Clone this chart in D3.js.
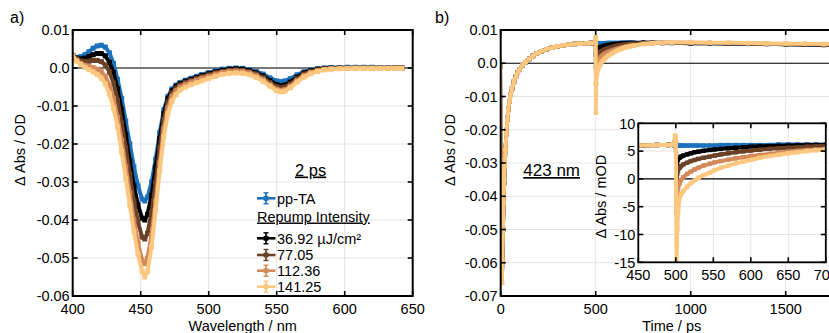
<!DOCTYPE html>
<html><head><meta charset="utf-8">
<script src="https://cdn.jsdelivr.net/npm/d3@7"></script>
<style>body{margin:0;background:#fff;overflow:hidden} text{font-family:"Liberation Sans",Arial,Helvetica,sans-serif;fill:#000}</style>
</head><body><svg id="c" width="829" height="333"></svg>
<script>
// ---------- DATA ----------
const seriesNames = ["pp-TA", "36.92 µJ/cm²", "77.05", "112.36", "141.25"];
const seriesColors = ["#1c71bd", "#000000", "#6b4126", "#d4895a", "#fcc77e"];

// (a) spectra at 2 ps, ΔAbs in OD
const wavelengths = [400,403,406,409,412,415,418,421,424,427,430,433,436,439,442,445,448,451,453,455,458,461,464,467,470,473,476,479,483,487,491,495,500,505,510,515,520,525,530,535,540,545,550,553,556,560,565,570,575,580,585,590,596,602,608,614,620,626,632,637,642];
const specPPTA = [0.0033,0.0028,0.0030,0.0035,0.0043,0.0052,0.0058,0.0060,0.0055,0.0040,0.0012,-0.0030,-0.0080,-0.0140,-0.0200,-0.0260,-0.0310,-0.0345,-0.0350,-0.0340,-0.0300,-0.0240,-0.0170,-0.0110,-0.0075,-0.0055,-0.0045,-0.0038,-0.0032,-0.0027,-0.0022,-0.0017,-0.0012,-0.0007,-0.0003,-0.0001,0.0000,-0.0001,-0.0004,-0.0009,-0.0016,-0.0026,-0.0034,-0.0036,-0.0034,-0.0028,-0.0018,-0.0010,-0.0005,-0.0002,0.0000,0.0001,0.0001,0.0002,0.0002,0.0002,0.0002,0.0001,0.0001,0.0001,0.0001];
const specRep37 = [0.0033,0.0026,0.0024,0.0026,0.0030,0.0035,0.0038,0.0038,0.0032,0.0015,-0.0012,-0.0055,-0.0110,-0.0175,-0.0245,-0.0310,-0.0360,-0.0395,-0.0400,-0.0385,-0.0335,-0.0260,-0.0185,-0.0120,-0.0080,-0.0060,-0.0048,-0.0041,-0.0035,-0.0030,-0.0025,-0.0020,-0.0015,-0.0010,-0.0006,-0.0003,-0.0002,-0.0003,-0.0007,-0.0013,-0.0021,-0.0033,-0.0044,-0.0047,-0.0045,-0.0037,-0.0024,-0.0013,-0.0007,-0.0003,-0.0001,0.0000,0.0000,0.0000,0.0000,0.0000,0.0000,0.0000,0.0000,0.0000,0.0000];
const specRep77 = [0.0033,0.0024,0.0019,0.0017,0.0018,0.0020,0.0020,0.0017,0.0008,-0.0010,-0.0040,-0.0085,-0.0145,-0.0210,-0.0280,-0.0350,-0.0405,-0.0445,-0.0450,-0.0435,-0.0380,-0.0300,-0.0210,-0.0135,-0.0090,-0.0066,-0.0053,-0.0045,-0.0038,-0.0033,-0.0028,-0.0023,-0.0018,-0.0013,-0.0009,-0.0006,-0.0005,-0.0006,-0.0010,-0.0016,-0.0025,-0.0038,-0.0049,-0.0052,-0.0050,-0.0042,-0.0028,-0.0016,-0.0009,-0.0005,-0.0002,-0.0001,0.0000,0.0000,0.0000,0.0000,0.0000,0.0000,0.0000,0.0000,0.0000];
const specRep112 = [0.0032,0.0020,0.0012,0.0007,0.0004,0.0001,-0.0003,-0.0010,-0.0022,-0.0045,-0.0080,-0.0130,-0.0190,-0.0260,-0.0330,-0.0400,-0.0460,-0.0505,-0.0515,-0.0500,-0.0440,-0.0350,-0.0250,-0.0160,-0.0105,-0.0075,-0.0060,-0.0050,-0.0043,-0.0037,-0.0032,-0.0027,-0.0022,-0.0016,-0.0012,-0.0009,-0.0008,-0.0009,-0.0013,-0.0020,-0.0030,-0.0044,-0.0056,-0.0059,-0.0057,-0.0048,-0.0033,-0.0020,-0.0012,-0.0007,-0.0004,-0.0002,-0.0001,-0.0001,0.0000,0.0000,0.0000,0.0000,0.0000,0.0000,0.0000];
const specRep141 = [0.0031,0.0018,0.0009,0.0002,-0.0004,-0.0010,-0.0017,-0.0027,-0.0042,-0.0068,-0.0105,-0.0155,-0.0220,-0.0290,-0.0360,-0.0430,-0.0490,-0.0535,-0.0550,-0.0535,-0.0470,-0.0375,-0.0270,-0.0180,-0.0120,-0.0087,-0.0070,-0.0058,-0.0050,-0.0044,-0.0039,-0.0034,-0.0028,-0.0022,-0.0017,-0.0014,-0.0013,-0.0014,-0.0018,-0.0025,-0.0035,-0.0048,-0.0060,-0.0063,-0.0061,-0.0052,-0.0037,-0.0024,-0.0015,-0.0009,-0.0005,-0.0003,-0.0002,-0.0001,-0.0001,-0.0001,-0.0001,-0.0001,-0.0001,-0.0001,-0.0001];

// (b) kinetics at 423 nm, ΔAbs in mOD
const preTimes = [-10,-3,0,3,6,9,12,15,18,21,25,30,35,40,46,52,60,70,80,90,100,115,130,150,170,190,215,240,270,300,330,360,390,420,450,475,490,496];
const preKin   = [0,-1,-35,-64,-66,-59,-50,-42,-36,-31,-26,-21,-17,-14,-11.5,-9.5,-7.5,-5.5,-4.0,-2.8,-1.8,-0.6,0.3,1.3,2.2,3.0,3.6,4.2,4.7,5.1,5.4,5.6,5.8,5.9,6.0,6.1,6.1,6.2];
const postTimes = [498,499,500,501,502,503,505,507,510,515,520,525,530,537,545,552,560,570,580,590,600,612,625,637,650,662,675,687,700,750,800,850,900,1000,1100,1200,1300,1400,1500,1600,1700,1800,1900];
const kinPPTA   = [6.1,6.3,6.4,6.1,6.0,6.0,6.0,6.0,6.0,6.0,6.0,6.0,6.0,6.0,6.0,6.0,6.1,6.1,6.1,6.1,6.1,6.1,6.1,6.2,6.2,6.2,6.2,6.2,6.2,6.2,6.2,6.1,6.1,6.0,6.0,5.9,5.8,5.8,5.7,5.6,5.5,5.4,5.3];
const kinRep37  = [6.1,6.5,6.0,2.5,3.2,3.5,3.8,4.0,4.2,4.4,4.6,4.8,4.9,5.05,5.2,5.3,5.4,5.5,5.6,5.7,5.8,5.85,5.9,5.95,6.0,6.05,6.1,6.1,6.1,6.2,6.2,6.1,6.1,6.0,6.0,5.9,5.9,5.8,5.7,5.6,5.5,5.4,5.3];
const kinRep77  = [6.1,6.8,6.2,-1.0,1.0,1.5,2.0,2.3,2.6,2.9,3.2,3.4,3.6,3.8,4.0,4.2,4.4,4.6,4.8,4.95,5.1,5.25,5.4,5.5,5.6,5.7,5.8,5.85,5.9,6.1,6.2,6.2,6.2,6.1,6.1,6.0,5.9,5.8,5.8,5.7,5.6,5.5,5.4];
const kinRep112 = [6.1,7.0,6.5,-6.0,-2.5,-1.6,-0.8,-0.2,0.3,0.9,1.3,1.7,2.0,2.4,2.7,3.0,3.2,3.45,3.7,3.9,4.1,4.3,4.5,4.7,4.9,5.05,5.2,5.3,5.4,5.8,6.0,6.1,6.2,6.2,6.1,6.1,6.0,5.9,5.8,5.8,5.7,5.6,5.5];
const kinRep141 = [6.2,7.8,7.5,-14.9,-9.0,-6.0,-3.5,-2.8,-2.2,-1.4,-0.8,-0.3,0.2,0.7,1.1,1.6,2.0,2.4,2.8,3.1,3.4,3.8,4.1,4.35,4.6,4.8,5.0,5.15,5.3,5.8,6.1,6.2,6.3,6.3,6.2,6.2,6.1,6.0,5.9,5.9,5.8,5.7,5.6];

// ticks
const aXTicks = [400,450,500,550,600,650];
const aYTicks = [0.01,0,-0.01,-0.02,-0.03,-0.04,-0.05,-0.06];
const aYLabels = ["0.01","0.0","-0.01","-0.02","-0.03","-0.04","-0.05","-0.06"];
const bXTicks = [0,500,1000,1500,2000];
const bYTicks = [0.01,0,-0.01,-0.02,-0.03,-0.04,-0.05,-0.06,-0.07];
const bYLabels = ["0.01","0.0","-0.01","-0.02","-0.03","-0.04","-0.05","-0.06","-0.07"];
const inXTicks = [450,500,550,600,650,700];
const inYTicks = [10,5,0,-5,-10,-15];

// ---------- DRAW ----------
const svg = d3.select("#c");
const FS = 14.5;
const GRID = "#e4e4e4";

const specSeries = [specPPTA, specRep37, specRep77, specRep112, specRep141];
const kinPost = [kinPPTA, kinRep37, kinRep77, kinRep112, kinRep141];

function frame(g, x, y, xt, yt) {
  const [x0, x1] = x.range(), [y0, y1] = y.range();
  const gg = g.append("g");
  xt.forEach(v => { const px = x(v); if (px > x0 + 1 && px < x1 - 1)
    gg.append("line").attr("x1", px).attr("x2", px).attr("y1", y1).attr("y2", y0).attr("stroke", GRID).attr("stroke-width", 1); });
  yt.forEach(v => { const py = y(v); if (py < y0 - 1 && py > y1 + 1)
    gg.append("line").attr("x1", x0).attr("x2", x1).attr("y1", py).attr("y2", py).attr("stroke", GRID).attr("stroke-width", 1); });
  gg.append("line").attr("x1", x0).attr("x2", x1).attr("y1", y(0)).attr("y2", y(0)).attr("stroke", "#000").attr("stroke-width", 1.1);
  return gg;
}
function box(g, x, y, xt, xl, yt, yl, sw) {
  const [x0, x1] = x.range(), [y0, y1] = y.range();
  const gg = g.append("g");
  gg.append("rect").attr("x", x0).attr("y", y1).attr("width", x1 - x0).attr("height", y0 - y1)
    .attr("fill", "none").attr("stroke", "#000").attr("stroke-width", sw);
  const T = 5;
  xt.forEach(v => { const px = x(v);
    gg.append("line").attr("x1", px).attr("x2", px).attr("y1", y0).attr("y2", y0 - T).attr("stroke", "#000").attr("stroke-width", 1.6);
    gg.append("line").attr("x1", px).attr("x2", px).attr("y1", y1).attr("y2", y1 + T).attr("stroke", "#000").attr("stroke-width", 1.6); });
  yt.forEach(v => { const py = y(v);
    gg.append("line").attr("x1", x0).attr("x2", x0 + T).attr("y1", py).attr("y2", py).attr("stroke", "#000").attr("stroke-width", 1.6);
    gg.append("line").attr("x1", x1).attr("x2", x1 - T).attr("y1", py).attr("y2", py).attr("stroke", "#000").attr("stroke-width", 1.6); });
  xt.forEach((v, i) => gg.append("text").attr("x", x(v)).attr("y", y0 + 17.5).attr("text-anchor", "middle").attr("font-size", FS).text(xl[i]));
  yt.forEach((v, i) => gg.append("text").attr("x", x0 - 3).attr("y", y(v) + 5.2).attr("text-anchor", "end").attr("font-size", FS).text(yl[i]));
}
function clip(id, x, y) {
  const [x0, x1] = x.range(), [y0, y1] = y.range();
  svg.append("clipPath").attr("id", id).append("rect").attr("x", x0).attr("y", y1).attr("width", x1 - x0).attr("height", y0 - y1);
}
function series(g, pts, x, y, color, lw, ms) {
  const line = d3.line().x(d => x(d[0])).y(d => y(d[1]));
  g.append("path").datum(pts).attr("d", line).attr("fill", "none").attr("stroke", color).attr("stroke-width", lw).attr("stroke-linejoin", "round");
  g.selectAll(null).data(pts).join("rect").attr("x", d => x(d[0]) - ms / 2).attr("y", d => y(d[1]) - ms / 2)
    .attr("width", ms).attr("height", ms).attr("fill", color);
}

// ---- panel a ----
const xa = d3.scaleLinear().domain([400, 650]).range([72.7, 412.7]);
const ya = d3.scaleLinear().domain([-0.06, 0.01]).range([296, 30]);
clip("clipA", xa, ya);
const ga = svg.append("g");
frame(ga, xa, ya, aXTicks, aYTicks);
const da = ga.append("g").attr("clip-path", "url(#clipA)");
specSeries.forEach((s, i) => series(da, wavelengths.map((w, j) => [w, s[j]]), xa, ya, seriesColors[i], 4, 5));
box(ga, xa, ya, aXTicks, aXTicks.map(String), aYTicks, aYLabels, 2);

svg.append("text").attr("x", 10).attr("y", 23).attr("font-size", 16).text("a)");
svg.append("text").attr("transform", "translate(25,150) rotate(-90)").attr("text-anchor", "middle").attr("font-size", FS).text("Δ Abs / OD");
svg.append("text").attr("x", 242.7).attr("y", 331).attr("text-anchor", "middle").attr("font-size", FS).text("Wavelength / nm");

svg.append("text").attr("x", 295).attr("y", 175.5).attr("font-size", 16.5).attr("text-decoration", "underline").text("2 ps");

// legend
const legRowsY = [198.3, 238.3, 255, 270.7, 286.7];
seriesNames.forEach((name, i) => {
  const cy = legRowsY[i], c = seriesColors[i];
  const lg = svg.append("g");
  lg.append("line").attr("x1", 257).attr("x2", 275.5).attr("y1", cy).attr("y2", cy).attr("stroke", c).attr("stroke-width", 2.6);
  lg.append("line").attr("x1", 266).attr("x2", 266).attr("y1", cy - 5.5).attr("y2", cy + 5.5).attr("stroke", c).attr("stroke-width", 1.7);
  lg.append("line").attr("x1", 263.5).attr("x2", 268.5).attr("y1", cy - 5.5).attr("y2", cy - 5.5).attr("stroke", c).attr("stroke-width", 1.4);
  lg.append("line").attr("x1", 263.5).attr("x2", 268.5).attr("y1", cy + 5.5).attr("y2", cy + 5.5).attr("stroke", c).attr("stroke-width", 1.4);
  lg.append("rect").attr("x", 263.6).attr("y", cy - 2.4).attr("width", 4.8).attr("height", 4.8).attr("fill", c);
  lg.append("text").attr("x", 277).attr("y", cy + 5.3).attr("font-size", FS).text(name);
});
svg.append("text").attr("x", 257).attr("y", 221.5).attr("font-size", FS).attr("text-decoration", "underline").attr("fill", "#222").text("Repump Intensity");

// ---- panel b ----
const xb = d3.scaleLinear().domain([0, 2000]).range([500.7, 880.7]);
const yb = d3.scaleLinear().domain([-0.07, 0.01]).range([296, 30]);
clip("clipB", xb, yb);
const gb = svg.append("g");
frame(gb, xb, yb, bXTicks, bYTicks);
const db = gb.append("g").attr("clip-path", "url(#clipB)");
kinPost.forEach((post, i) => {
  const pts = preTimes.map((t, j) => [t, preKin[j] / 1000]).concat(postTimes.map((t, j) => [t, post[j] / 1000]));
  series(db, pts, xb, yb, seriesColors[i], 3.8, 4.4);
});
box(gb, xb, yb, bXTicks, bXTicks.map(String), bYTicks, bYLabels, 2);

svg.append("text").attr("x", 435).attr("y", 23).attr("font-size", 16).text("b)");
svg.append("text").attr("transform", "translate(455,150) rotate(-90)").attr("text-anchor", "middle").attr("font-size", FS).text("Δ Abs / OD");
svg.append("text").attr("x", 671.7).attr("y", 331).attr("text-anchor", "middle").attr("font-size", FS).text("Time / ps");
svg.append("text").attr("x", 523.3).attr("y", 176).attr("font-size", 17).attr("text-decoration", "underline").text("423 nm");

// ---- inset ----
const xi = d3.scaleLinear().domain([450, 700]).range([638.3, 825.8]);
const yi = d3.scaleLinear().domain([-15, 10]).range([262.3, 123.3]);
svg.append("rect").attr("x", 638.3).attr("y", 123.3).attr("width", 825.8 - 638.3).attr("height", 262.3 - 123.3).attr("fill", "#fff");
clip("clipI", xi, yi);
const gi = svg.append("g");
frame(gi, xi, yi, inXTicks, inYTicks);
const di = gi.append("g").attr("clip-path", "url(#clipI)");
kinPost.forEach((post, i) => {
  const pts = preTimes.map((t, j) => [t, preKin[j]]).concat(postTimes.map((t, j) => [t, post[j]]))
    .filter(d => d[0] >= 400 && d[0] <= 800);
  series(di, pts, xi, yi, seriesColors[i], 4, 4.4);
});
box(gi, xi, yi, inXTicks, inXTicks.map(String), inYTicks, inYTicks.map(String), 1.8);
svg.append("text").attr("transform", "translate(606,196.7) rotate(-90)").attr("text-anchor", "middle").attr("font-size", FS).text("Δ Abs / mOD");
</script></body></html>
